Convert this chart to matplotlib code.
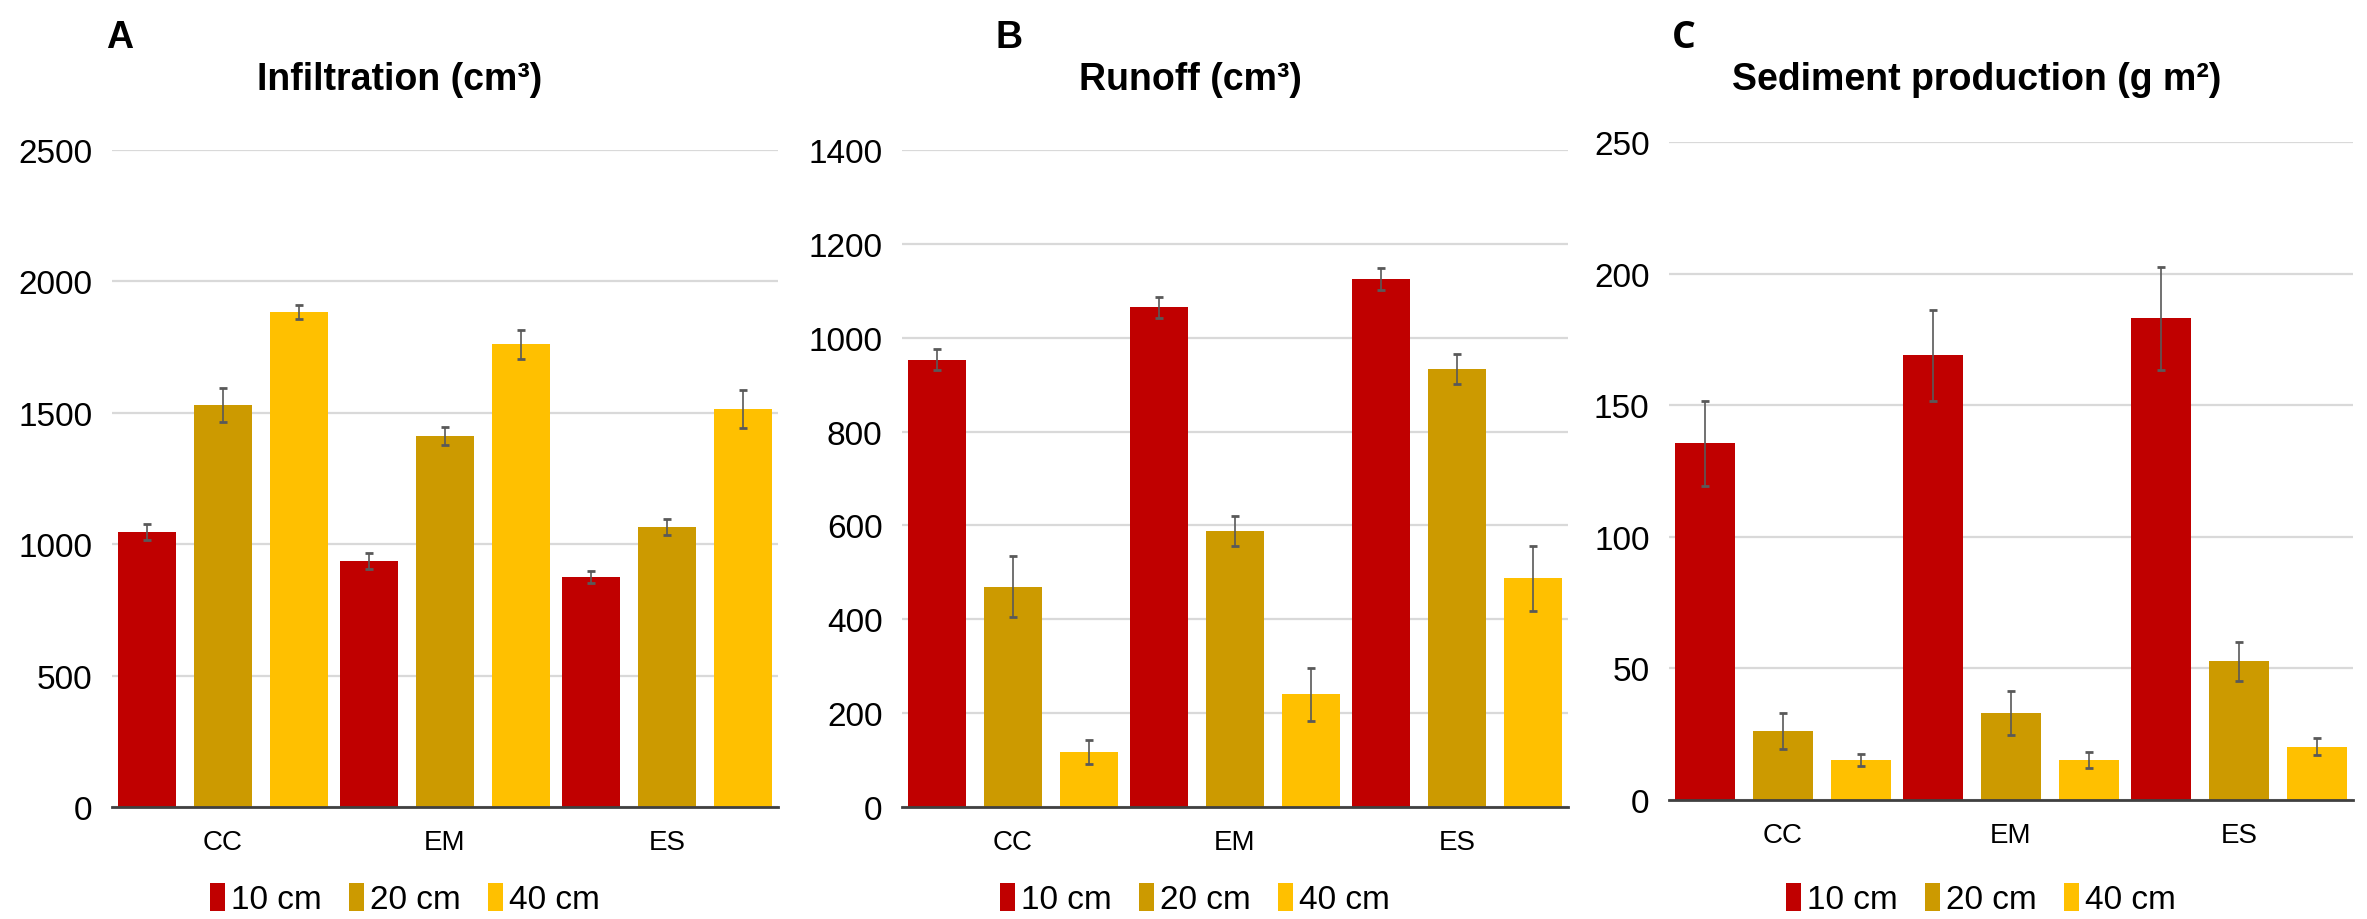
import numpy as np
import matplotlib
matplotlib.use("Agg")
import matplotlib.pyplot as plt
from matplotlib import font_manager
from matplotlib.patches import Patch

# data
categories = ["CC", "EM", "ES"]
depths = ["10 cm", "20 cm", "40 cm"]
colors = ["#C00000", "#CC9A00", "#FFC000"]

infiltration = [[1046, 936, 876], [1530, 1412, 1066], [1884, 1760, 1514]]
infiltration_err = [[30, 31, 22], [65, 33, 30], [28, 56, 72]]

runoff = [[953, 1065, 1125], [469, 588, 933], [117, 240, 487]]
runoff_err = [[22, 22, 23], [65, 32, 32], [25, 56, 70]]

sediment = [[135.5, 169, 183], [26.2, 33, 52.7], [15.2, 15.2, 20.3]]
sediment_err = [[16.2, 17.3, 19.5], [7, 8.4, 7.3], [2.3, 2.9, 3.3]]

panels = [
    ("A", "Infiltration (cm³)", infiltration, infiltration_err, 2500, 500),
    ("B", "Runoff (cm³)", runoff, runoff_err, 1400, 200),
    ("C", "Sediment production (g m²)", sediment, sediment_err, 250, 50),
]

installed = {f.name for f in font_manager.fontManager.ttflist}
narrow = "Liberation Sans Narrow" if "Liberation Sans Narrow" in installed else "Liberation Sans"
plt.rcParams["font.family"] = [narrow, "DejaVu Sans"]

W, H = 2367, 920
fig = plt.figure(figsize=(W / 100, H / 100), dpi=100)

# axes boxes in pixels: left, right, top(ymax), bottom(zero)
boxes = [(112, 778, 151, 808), (902, 1568, 151, 808), (1669, 2353, 143, 801)]
title_x = [400, 1190, 1977]
letter_x = [120, 1009, 1684]
legend_x = [405, 1195, 1981]

width = 0.265
step = 0.342
x = np.arange(len(categories))

for (letter, title, vals, errs, ymax, ystep), (l, r, t, b), tx, lx, gx in zip(
        panels, boxes, title_x, letter_x, legend_x):
    ax = fig.add_axes([l / W, 1 - b / H, (r - l) / W, (b - t) / H])
    for i in range(3):
        ax.bar(x + (i - 1) * step, vals[i], width, color=colors[i],
               edgecolor="none", zorder=2)
        ax.errorbar(x + (i - 1) * step, vals[i], yerr=errs[i], fmt="none",
                    ecolor="#595959", elinewidth=1.2, capsize=2.6, capthick=2,
                    zorder=3)
    ax.set_xlim(-0.5, 2.5)
    ax.set_ylim(0, ymax)
    ax.set_yticks(np.arange(0, ymax + 1, ystep))
    ax.set_xticks(x)
    ax.set_xticklabels(categories, fontsize=20)
    ax.tick_params(axis="y", length=0, pad=14, labelsize=24)
    ax.tick_params(axis="x", length=0, pad=16)
    ax.grid(axis="y", color="#d9d9d9", linewidth=1.6, zorder=0)
    for s in ("left", "right", "top"):
        ax.spines[s].set_visible(False)
    ax.spines["bottom"].set_color("#404040")
    ax.spines["bottom"].set_linewidth(2)
    ax.spines["bottom"].set_zorder(4)

    fig.text(tx / W, 1 - 80 / H, title, ha="center", va="center",
             fontsize=27, fontweight="bold")
    fig.text(lx / W, 1 - 38 / H, letter, ha="center", va="center",
             fontsize=27, fontweight="bold",
             family="Open Sans" if letter == "C" else ["Liberation Sans", "DejaVu Sans"])

    handles = [Patch(facecolor=c, edgecolor="none") for c in colors]
    fig.legend(handles, depths, loc="center", bbox_to_anchor=(gx / W, 1 - 900 / H),
               ncol=3, frameon=False, fontsize=24, handlelength=0.45,
               handleheight=0.9, handletextpad=0.2, columnspacing=0.8)

fig.savefig("out.png", dpi=100)
